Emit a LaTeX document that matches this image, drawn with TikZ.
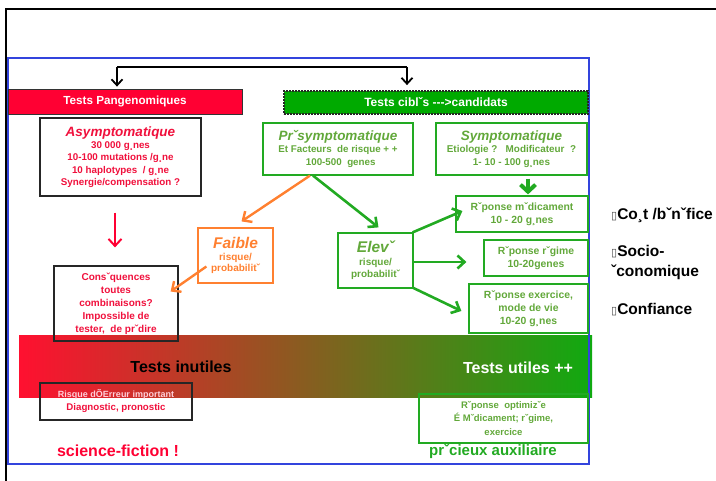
\documentclass[tikz,border=0pt]{standalone}
\usepackage{fontspec}
\setmainfont{Liberation Sans}
\newfontfamily\djv{DejaVu Sans}
\usetikzlibrary{arrows.meta}
\definecolor{pgred}{HTML}{FF0033}
\definecolor{txred}{HTML}{F0103C}
\definecolor{bargreen}{HTML}{00AA00}
\definecolor{boxgreen}{HTML}{22AA22}
\definecolor{txgreen}{HTML}{62A83A}
\definecolor{orng}{HTML}{FF8030}
\definecolor{frameblue}{HTML}{3344DD}
\definecolor{pinkw}{HTML}{FFD0DA}
\definecolor{gradL}{HTML}{FF1030}
\definecolor{gradM}{HTML}{B86A1E}
\definecolor{gradR}{HTML}{10AA10}
\newcommand\fsz[2]{\fontsize{#1}{#2}\selectfont}
\newcommand\bul{{\djv\fsz{11}{11}\color{black!70}▯}}
\begin{document}
\begin{tikzpicture}[x=1pt,y=-1pt,
  box/.style={draw, line width=1.2pt, inner sep=0pt, align=center},
  blkbox/.style={box, draw=black!85},
  grnbox/.style={box, draw=boxgreen, text=txgreen},
  orgbox/.style={box, draw=orng, text=orng},
  barb/.style={-{Straight Barb[length=7pt,width=13pt]}},
  lbl/.style={inner sep=0pt, font=\bfseries}]
\useasboundingbox (0,0) rectangle (716,481);
% outer black frame
\draw[line width=1.2pt, black] (716,9) -- (6,9) -- (6,481);
% gradient bar
\shade[left color=gradL, middle color=gradM, right color=gradR] (19,336) rectangle (592,398);
% blue frame
\draw[line width=1.4pt, frameblue] (8,58) rectangle (589,464);
% bars
\node[draw=black!80, line width=0.8pt, fill=pgred, minimum width=234pt, minimum height=25pt, inner sep=0pt,
  text=white, font=\bfseries\fsz{11.7}{13}] (redbar) at (125,101.5) {Tests Pangenomiques};
\node[draw=black!85, line width=1.8pt, dash pattern=on 2pt off 1pt, fill=bargreen, minimum width=304pt, minimum height=23pt, inner sep=0pt,
  text=white, font=\bfseries\fsz{12}{13}] (greenbar) at (436,102.5) {Tests ciblˇs -{}-{}-{}>candidats};
% top connector
\coordinate (jl) at (117,67);
\coordinate (jr) at (407,67);
\draw[line width=1.8pt] (jl) -- (jr);
\draw[line width=1.8pt, -{Straight Barb[length=6pt,width=11pt]}, shorten >=2pt] (jl) -- (jl |- redbar.north);
\draw[line width=1.8pt, -{Straight Barb[length=6pt,width=11pt]}, shorten >=5pt] (jr) -- (jr |- greenbar.north);
% boxes
\node[blkbox, text=txred, minimum width=161pt, minimum height=78pt, font=\bfseries\fsz{9.8}{12.4}] (asym) at (120.5,157)
 {{\fsz{13.5}{15}\itshape Asymptomatique}\\30 000 g¸nes\\10-100 mutations /g¸ne\\ 10 haplotypes\ \ / g¸ne\\Synergie/compensation ?};
\node[grnbox, minimum width=150pt, minimum height=52pt, font=\bfseries\fsz{9.8}{12.8}] (presym) at (338,149)
 {{\fsz{13.5}{14}\itshape Prˇsymptomatique}\\Et Facteurs\ \ de risque + +\\ \ \ 100-500\ \ genes};
\node[grnbox, minimum width=151pt, minimum height=52pt, font=\bfseries\fsz{9.9}{12.8}] (sym) at (511.5,149)
 {{\fsz{13.5}{14}\itshape Symptomatique}\\Etiologie ?\ \ \ Modificateur\ \ ?\\1- 10 - 100 g¸nes};
\node[orgbox, minimum width=75pt, minimum height=55pt, font=\bfseries\fsz{10}{11.5}] (faible) at (235.5,255.5)
 {{\fsz{15.5}{16}\itshape Faible}\\risque/\\probabilitˇ};
\node[grnbox, minimum width=75pt, minimum height=55pt, font=\bfseries\fsz{10}{12.5}] (eleve) at (375.5,260.5)
 {{\fsz{15.5}{16}\itshape Elevˇ}\\risque/\\probabilitˇ};
\node[blkbox, text=txred, minimum width=124pt, minimum height=75pt, font=\bfseries\fsz{10}{13}] (conseq) at (116,303.5)
 {Consˇquences\\toutes\\combinaisons?\\Impossible de\\tester,\ \ de prˇdire};
\node[grnbox, minimum width=132pt, minimum height=36pt, font=\bfseries\fsz{10.4}{12.8}] (repmed) at (522,214)
 {Rˇponse mˇdicament\\10 - 20 g¸nes};
\node[grnbox, minimum width=104pt, minimum height=36pt, font=\bfseries\fsz{10.4}{12.8}] (repreg) at (536,258)
 {Rˇponse rˇgime\\10-20genes};
\node[grnbox, minimum width=119pt, minimum height=49pt, font=\bfseries\fsz{10.4}{13}] (repex) at (528.5,308.5)
 {Rˇponse exercice,\\mode de vie\\10-20 g¸nes};
\node[blkbox, text=txred, minimum width=152pt, minimum height=37pt, font=\bfseries\fsz{9.7}{13}] (risque) at (116,401.5)
 {{\color{pinkw}\fsz{9}{13}Risque dÕErreur important}\\Diagnostic, pronostic};
\node[grnbox, minimum width=169pt, minimum height=49pt, font=\bfseries\fsz{9.5}{13.5}] (repopt) at (503.5,418.5)
 {Rˇponse\ \ optimizˇe\\É Mˇdicament; rˇgime,\\exercice};
% gradient labels
\node[lbl, text=black, font=\bfseries\fsz{16}{18}] (inutiles) at (181,367) {Tests inutiles};
\node[lbl, text=white, font=\bfseries\fsz{16}{18}] (utiles) at (518,368) {Tests utiles ++};
\node[lbl, text=pgred, font=\bfseries\fsz{16}{18}] (scifi) at (118,451) {science-fiction !};
\node[lbl, text=boxgreen, font=\bfseries\fsz{15}{17}] (precieux) at (493,451) {prˇcieux auxiliaire};
% right side list
\node[lbl, anchor=base west, font=\bfseries\fsz{15.5}{18}] (cout) at (611,220) {\bul Co¸t /bˇnˇfice};
\node[lbl, anchor=base west, font=\bfseries\fsz{15.5}{18}] (socio) at (611,257) {\bul Socio-};
\node[lbl, anchor=base west, font=\bfseries\fsz{15.5}{18}] (econ) at (611,277) {ˇconomique};
\node[lbl, anchor=base west, font=\bfseries\fsz{15.5}{18}] (conf) at (611,315) {\bul Confiance};
% arrows
\draw[orng, line width=2.4pt, barb] ([xshift=-28pt]presym.south) -- ([xshift=6pt,yshift=6pt]faible.north);
\draw[boxgreen, line width=2.6pt, barb] ([xshift=-25pt]presym.south) -- ([xshift=3pt,yshift=5pt]eleve.north);
\draw[orng, line width=2.4pt, barb] ([xshift=9pt,yshift=-11pt]faible.west) -- ([xshift=-8pt,yshift=12pt]conseq.east);
\draw[pgred, line width=2pt, barb] ([xshift=-5.5pt,yshift=-16pt]asym.south) -- ([xshift=-1pt,yshift=18pt]conseq.north);
\draw[boxgreen, line width=2.6pt, barb] ([xshift=-1pt]eleve.north east) -- ([xshift=7pt,yshift=3pt]repmed.west);
\draw[boxgreen, line width=2.6pt, barb] ([xshift=-1pt,yshift=-1.5pt]eleve.east) -- ([xshift=-17pt,yshift=-4pt]repreg.west);
\draw[boxgreen, line width=2.6pt, barb] ([xshift=-1pt,yshift=1pt]eleve.south east) -- ([xshift=-7pt,yshift=-2.5pt]repex.west);
\draw[boxgreen, line width=4pt, -{Straight Barb[length=7pt,width=15pt]}] ([xshift=16.5pt,yshift=-3pt]sym.south) -- ([xshift=6pt,yshift=1pt]repmed.north);
\end{tikzpicture}
\end{document}
